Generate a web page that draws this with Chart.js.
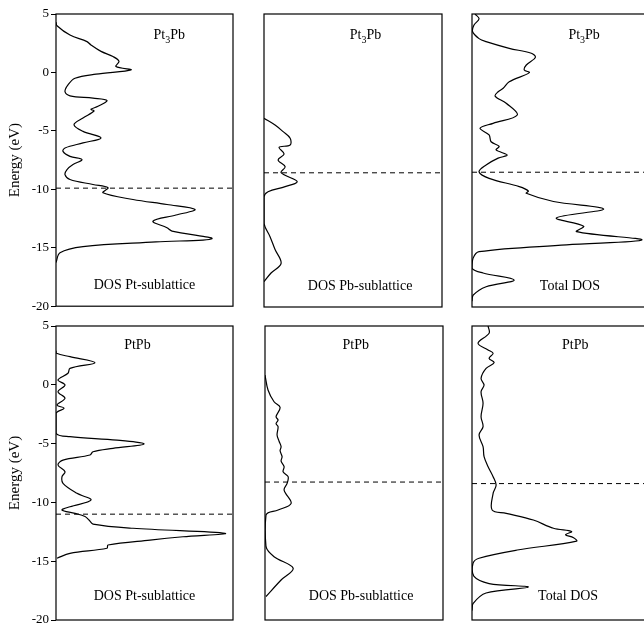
<!DOCTYPE html>
<html>
<head>
<meta charset="utf-8">
<script src="https://cdn.jsdelivr.net/npm/chart.js@4.4.1/dist/chart.umd.min.js"></script>
<style>
    html, body { margin: 0; padding: 0; background: #fff; overflow: hidden; }
    body { width: 644px; height: 623px; position: relative; }
    canvas { position: absolute; }
</style>
</head>
<body>

<canvas id="c1" width="240" height="316" style="left:0;top:0"></canvas>
<canvas id="c2" width="206" height="316" style="left:250px;top:0"></canvas>
<canvas id="c3" width="200" height="316" style="left:458px;top:0"></canvas>
<canvas id="c4" width="240" height="320" style="left:0;top:316px"></canvas>
<canvas id="c5" width="206" height="320" style="left:250px;top:316px"></canvas>
<canvas id="c6" width="200" height="320" style="left:458px;top:316px"></canvas>

<script>
/* ==========================================
   DOS of Pt3Pb and PtPb (arbitrary DOS units)
========================================== */

const energyTicks = [5, 0, -5, -10, -15, -20];

/* Pt3Pb - Pt sublattice */
const pt3pbPtE   = [4.3, 4.0, 3.2, 2.64, 2.35, 1.8, 1.36, 0.95, 0.5, 0.22, -0.15, -0.5, -1.06, -1.65, -2.0, -2.2, -2.4, -2.9, -3.15, -3.3, -3.9, -4.47, -5.04, -5.6, -6.03, -6.46, -6.75, -7.18, -7.46, -7.88, -8.31, -8.74, -9.16, -9.59, -9.87, -10.3, -10.87, -11.3, -11.72, -12.2, -12.72, -13.29, -13.57, -14.22, -14.5, -14.9, -15.42, -16.27];
const pt3pbPtDos = [0, 1, 14, 31, 35, 45, 57, 63, 60, 75, 40, 19, 12, 9, 14, 37, 51, 42, 35, 38, 27, 18, 27, 45, 27, 9, 7, 14, 26, 17, 11, 9, 14, 37, 52, 47, 77, 111, 139, 120, 97, 111, 116, 156, 100, 27, 4, 0];

/* Pt3Pb - Pb sublattice */
const pt3pbPbE   = [-3.9, -4.47, -5.04, -5.6, -6.18, -6.38, -6.95, -7.46, -8.03, -8.54, -9.3, -9.73, -10.16, -10.6, -12.86, -14.0, -15.1, -16.27, -17.1, -17.84];
const pt3pbPbDos = [0, 11, 19, 26, 26, 15, 20, 14, 21, 17, 33, 21, 4, 0, 0, 6, 11, 17, 7, 0];

/* Pt3Pb - total */
const pt3pbTotE   = [5, 4.6, 4.06, 3.5, 2.9, 2.64, 2.07, 1.65, 1.3, 0.65, 0.22, 0, -0.78, -1.34, -1.63, -2.0, -2.62, -3.62, -4.33, -4.75, -5.32, -5.9, -6.3, -6.6, -7.03, -7.3, -7.88, -8.46, -9.02, -9.73, -10.1, -10.3, -11.0, -11.64, -12.4, -13.1, -13.57, -14.28, -14.7, -15.28, -15.85, -16.7, -17.1, -17.7, -18.27, -19.0, -19.5];
const pt3pbTotDos = [3, 7, 2, 0.5, 7, 14, 37, 59, 63, 54, 52, 57, 37, 31, 26, 23, 34, 45, 21, 8, 17, 19, 27, 24, 35, 26, 14, 7, 17, 47, 56, 54, 81, 131, 84, 111, 104, 169, 94, 7, 1, 0, 11, 42, 14, 1, 0];

/* PtPb - Pt sublattice */
const ptpbPtE   = [2.9, 2.68, 2.39, 1.88, 1.4, 0.98, 0.41, -0.02, -0.59, -1.15, -1.72, -2.0, -2.42, -4.12, -4.41, -4.7, -5.03, -5.4, -5.69, -5.97, -6.4, -6.82, -7.39, -7.81, -8.38, -9.23, -9.8, -10.37, -10.65, -10.93, -11.2, -11.5, -11.84, -12.2, -12.63, -12.92, -13.2, -13.62, -13.9, -14.33, -14.75];
const ptpbPtDos = [0, 0.5, 14, 39, 14, 12, 2, 9, 2, 9, 1, 8, 0, 0, 14, 61, 88, 57, 37, 34, 7, 2, 9, 6, 7, 21, 35, 14, 6, 19, 29, 33, 37, 77, 169, 127, 94, 52, 51, 14, 1];

/* PtPb - Pb sublattice */
const ptpbPbE   = [0.83, -0.44, -1.44, -1.92, -2.71, -3.0, -3.3, -3.56, -4.27, -4.8, -5.26, -5.6, -6.11, -6.5, -6.96, -7.4, -7.81, -8.38, -8.95, -10.08, -10.65, -11.07, -13.77, -14.62, -15.6, -16.6, -18.0];
const ptpbPbDos = [0, 3, 9, 15, 11, 13, 11, 13, 12, 14, 16, 15, 17, 16, 19, 18, 23, 22, 19, 26, 13, 1, 1, 9, 28, 16, 1];

/* PtPb - total */
const ptpbTotE   = [5, 4.38, 3.53, 2.96, 2.68, 2.25, 1.88, 1.4, 0.55, -0.02, -0.59, -1.57, -2.71, -3.56, -4.27, -5.26, -6.11, -6.96, -7.81, -8.52, -9.23, -10.65, -10.93, -11.5, -12.2, -12.48, -12.75, -13.0, -13.3, -14.05, -14.75, -15.18, -16.3, -16.9, -17.2, -17.7, -18.6, -19.2];
const ptpbTotDos = [16, 17, 6, 16, 21, 17, 22, 14, 9, 12, 9, 11, 9, 11, 7, 11, 12, 16, 21, 24, 21, 20, 34, 61, 81, 99, 93, 101, 104, 45, 7, 1, 2, 17, 56, 14, 1, 0];

/* Fermi levels */
const fermiTop    = [-9.9, -8.55, -8.5];
const fermiBottom = [-11.0, -8.27, -8.4];

const DOS_MAX = 177;

/* ======================================
        Plugins
====================================== */

const serif = '"Liberation Serif", "DejaVu Serif", serif';

function drawFormula(ctx, text, cx, y) {
    // digits are drawn as subscripts
    const parts = text.split(/(\d+)/).filter(p => p.length);
    let total = 0;
    parts.forEach(p => {
        ctx.font = (/\d/.test(p) ? '10px ' : '14px ') + serif;
        total += ctx.measureText(p).width;
    });
    let x = cx - total / 2;
    ctx.textAlign = 'left';
    parts.forEach(p => {
        const sub = /\d/.test(p);
        ctx.font = (sub ? '10px ' : '14px ') + serif;
        ctx.fillText(p, x, sub ? y + 5 : y);
        x += ctx.measureText(p).width;
    });
}

const panelDecor = {
    id: 'panelDecor',
    afterDraw(chart, args, opts) {
        const {ctx, chartArea: a} = chart;
        ctx.save();
        ctx.strokeStyle = '#000';
        ctx.lineWidth = 1.2;
        ctx.strokeRect(a.left, a.top, a.right - a.left, a.bottom - a.top);
        ctx.fillStyle = '#000';
        ctx.textBaseline = 'middle';
        const w = a.right - a.left, h = a.bottom - a.top;
        drawFormula(ctx, opts.title, a.left + w * opts.tx, a.top + h * opts.ty);
        ctx.font = '14px ' + serif;
        ctx.textAlign = 'center';
        ctx.fillText(opts.label, a.left + w * opts.lx, a.top + h * opts.ly);
        ctx.restore();
    }
};

/* ======================================
        Panels
====================================== */

function makePanel(id, energies, dos, fermi, decor, showAxis, pad) {

    const curve = energies.map((e, i) => ({ x: dos[i], y: e }));

    new Chart(document.getElementById(id), {

        type: 'scatter',

        data: {
            datasets: [
                {
                    data: [{ x: 0, y: fermi }, { x: DOS_MAX, y: fermi }],
                    showLine: true,
                    borderColor: '#000',
                    borderWidth: 1,
                    borderDash: [5, 4],
                    pointRadius: 0,
                    tension: 0
                },
                {
                    data: curve,
                    showLine: true,
                    borderColor: '#000',
                    borderWidth: 1.2,
                    pointRadius: 0,
                    tension: 0.35
                }
            ]
        },

        options: {
            responsive: false,
            animation: false,
            events: [],
            layout: { padding: pad },
            plugins: {
                legend: { display: false },
                tooltip: { enabled: false },
                panelDecor: decor
            },
            scales: {
                x: {
                    type: 'linear',
                    display: false,
                    min: 0,
                    max: DOS_MAX
                },
                y: {
                    type: 'linear',
                    display: showAxis,
                    min: -20,
                    max: 5,
                    afterBuildTicks: s => { s.ticks = energyTicks.map(v => ({ value: v })); },
                    afterFit: s => { if (showAxis) s.width = 56; },
                    border: { display: false },
                    grid: {
                        display: true,
                        drawOnChartArea: false,
                        drawTicks: true,
                        tickLength: 5,
                        color: '#000',
                        lineWidth: 1
                    },
                    ticks: {
                        color: '#000',
                        padding: 2,
                        font: { family: serif, size: 13 }
                    },
                    title: {
                        display: true,
                        text: 'Energy (eV)',
                        color: '#000',
                        padding: { top: 6, bottom: 0 },
                        font: { family: serif, size: 15 }
                    }
                }
            }
        },

        plugins: [panelDecor]

    });
}

const padTopL = { top: 14, bottom: 9, left: 0, right: 7 };
const padTopM = { top: 14, bottom: 9, left: 14, right: 14 };
const padTopR = { top: 14, bottom: 9, left: 14, right: 8 };
const padBotL = { top: 10, bottom: 16, left: 0, right: 7 };
const padBotM = { top: 10, bottom: 16, left: 15, right: 13 };
const padBotR = { top: 10, bottom: 16, left: 14, right: 8 };

makePanel('c1', pt3pbPtE, pt3pbPtDos, fermiTop[0],
    { title: 'Pt3Pb', tx: 0.64, ty: 0.072, label: 'DOS Pt-sublattice', lx: 0.50, ly: 0.93 }, true, padTopL);
makePanel('c2', pt3pbPbE, pt3pbPbDos, fermiTop[1],
    { title: 'Pt3Pb', tx: 0.57, ty: 0.072, label: 'DOS Pb-sublattice', lx: 0.54, ly: 0.93 }, false, padTopM);
makePanel('c3', pt3pbTotE, pt3pbTotDos, fermiTop[2],
    { title: 'Pt3Pb', tx: 0.63, ty: 0.072, label: 'Total DOS', lx: 0.55, ly: 0.93 }, false, padTopR);
makePanel('c4', ptpbPtE, ptpbPtDos, fermiBottom[0],
    { title: 'PtPb', tx: 0.46, ty: 0.065, label: 'DOS Pt-sublattice', lx: 0.50, ly: 0.92 }, true, padBotL);
makePanel('c5', ptpbPbE, ptpbPbDos, fermiBottom[1],
    { title: 'PtPb', tx: 0.51, ty: 0.065, label: 'DOS Pb-sublattice', lx: 0.54, ly: 0.92 }, false, padBotM);
makePanel('c6', ptpbTotE, ptpbTotDos, fermiBottom[2],
    { title: 'PtPb', tx: 0.58, ty: 0.065, label: 'Total DOS', lx: 0.54, ly: 0.92 }, false, padBotR);
</script>
</body>
</html>
